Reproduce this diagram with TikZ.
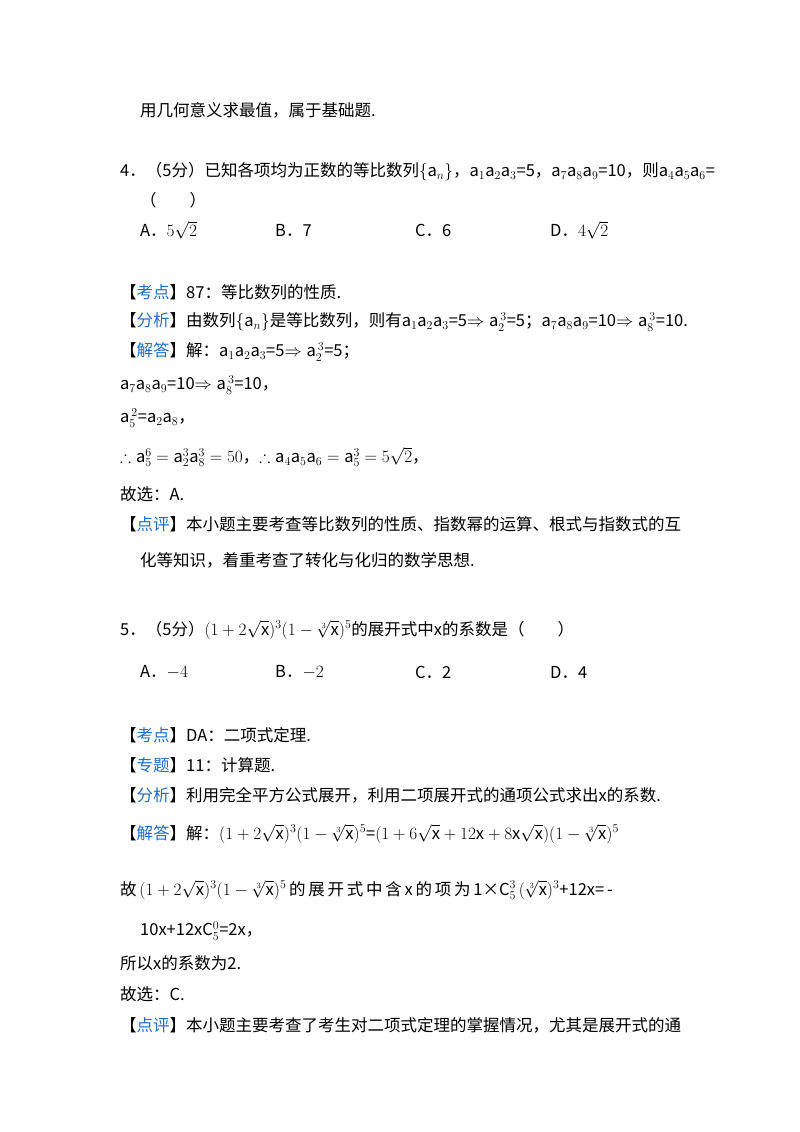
\documentclass[tikz,border=0pt]{standalone}
\usepackage{amsmath,amssymb}
\usepackage{fontspec}
\setmainfont{Noto Sans CJK SC}
\definecolor{lblue}{RGB}{30,110,200}
\newcommand{\tg}[1]{【\textcolor{lblue}{#1}】}
\newcommand{\va}{\mathrm{a}}
\begin{document}
\begin{tikzpicture}[x=1pt,y=-1pt,every node/.style={anchor=west,inner sep=0pt,font=\fontsize{16.5}{19}\selectfont}]
\useasboundingbox[fill=white] (0,0) rectangle (800,1132);
\node (l1) at (140,110) {用几何意义求最值，属于基础题.};
\node (q4) at (120,172) {4．（5分）已知各项均为正数的等比数列$\{\va_n\}$，$\va_1\va_2\va_3$=5，$\va_7\va_8\va_9$=10，则$\va_4\va_5\va_6$=};
\node (q4b) at (140,200) {（\qquad）};
\node (a4) at (140,230) {A．$5\sqrt{2}$};
\node (b4) at (275,230) {B．7};
\node (c4) at (415,230) {C．6};
\node (d4) at (550,230) {D．$4\sqrt{2}$};
\node (k4) at (120,292) {\tg{考点}87：等比数列的性质.};
\node (f4) at (120,322) {\tg{分析}由数列$\{\va_n\}$是等比数列，则有$\va_1\va_2\va_3$=5$\Rightarrow \va_2^{\,3}$=5；$\va_7\va_8\va_9$=10$\Rightarrow \va_8^{\,3}$=10.};
\node (j4) at (120,352) {\tg{解答}解：$\va_1\va_2\va_3$=5$\Rightarrow \va_2^{\,3}$=5；};
\node (j4b) at (120,385) {$\va_7\va_8\va_9$=10$\Rightarrow \va_8^{\,3}$=10，};
\node (j4c) at (120,418) {$\va_5^{\,2}$=$\va_2\va_8$，};
\node (j4d) at (120,457) {$\therefore \va_5^6=\va_2^3\va_8^3=50$，$\therefore \va_4\va_5\va_6=\va_5^3=5\sqrt{2}$，};
\node (g4) at (120,494) {故选：A.};
\node (p4) at (120,524) {\tg{点评}本小题主要考查等比数列的性质、指数幂的运算、根式与指数式的互};
\node (p4b) at (140,560) {化等知识，着重考查了转化与化归的数学思想.};
\node (q5) at (120,630) {5．（5分）$(1+2\sqrt{\mathrm{x}})^3(1-\sqrt[3]{\mathrm{x}})^5$的展开式中x的系数是（\qquad）};
\node (a5) at (140,672) {A．$-4$};
\node (b5) at (275,672) {B．$-2$};
\node (c5) at (415,672) {C．2};
\node (d5) at (550,672) {D．4};
\node (k5) at (120,735) {\tg{考点}DA：二项式定理.};
\node (z5) at (120,765) {\tg{专题}11：计算题.};
\node (f5) at (120,795) {\tg{分析}利用完全平方公式展开，利用二项展开式的通项公式求出x的系数.};
\node (j5) at (120,834) {\tg{解答}解：$(1+2\sqrt{\mathrm{x}})^3(1-\sqrt[3]{\mathrm{x}})^5$=$(1+6\sqrt{\mathrm{x}}+12\mathrm{x}+8\mathrm{x}\sqrt{\mathrm{x}})(1-\sqrt[3]{\mathrm{x}})^5$};
\node (j5b) at (120,890) {故\,$(1+2\sqrt{\mathrm{x}})^3(1-\sqrt[3]{\mathrm{x}})^5$\,的\,展\,开\,式\,中\,含\,x\,的\,项\,为\,1×$\mathrm{C}_5^3\,(\sqrt[3]{\mathrm{x}})^3$+12x=\,-};
\node (j5c) at (140,931) {10x+12x$\mathrm{C}_5^0$=2x，};
\node (j5d) at (120,963) {所以x的系数为2.};
\node (g5) at (120,994) {故选：C.};
\node (p5) at (120,1025) {\tg{点评}本小题主要考查了考生对二项式定理的掌握情况，尤其是展开式的通};
\end{tikzpicture}
\end{document}
